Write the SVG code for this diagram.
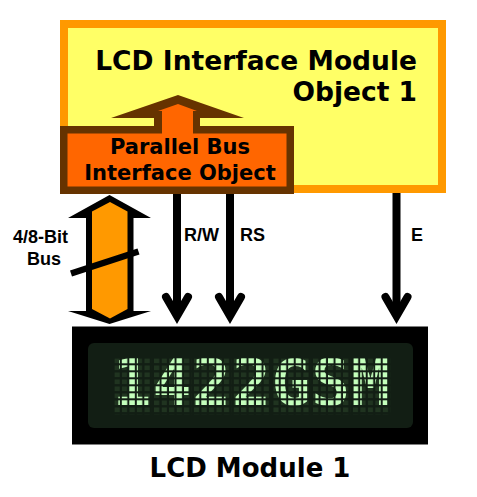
<svg xmlns="http://www.w3.org/2000/svg" width="477" height="497" viewBox="0 0 477 497">
<style>
.title{font-family:"DejaVu Sans",Verdana,sans-serif;font-weight:bold;fill:#000}
.lbl{font-family:"Liberation Sans",Arial,sans-serif;font-weight:bold;font-size:18px;fill:#000}
.wire{stroke:#000;stroke-width:8;fill:none}
.lcdtxt{font-family:"DejaVu Sans Mono",monospace;font-weight:bold;font-size:64.5px;fill:#c4ffbc}
</style>
<defs>
<marker id="chev" markerUnits="userSpaceOnUse" orient="auto" refX="0" refY="0" markerWidth="40" markerHeight="40" overflow="visible">
<polyline points="-19,-11 0,0 -19,11" fill="none" stroke="#000" stroke-width="8" stroke-linecap="round" stroke-linejoin="miter"/>
</marker>
<pattern id="unlit" patternUnits="userSpaceOnUse" x="0" y="0" width="7.5" height="7">
<rect width="5.5" height="5" fill="#203420"/>
</pattern>
<pattern id="gaps" patternUnits="userSpaceOnUse" x="0" y="0" width="7.5" height="7">
<rect x="5.5" y="0" width="2" height="7" fill="#121e14"/>
<rect x="0" y="5" width="7.5" height="2" fill="#121e14"/>
</pattern>
<rect id="cellbg" x="0" y="0" width="37.5" height="56" fill="url(#unlit)"/>
<rect id="cellgap" x="-2" y="-2" width="39.5" height="58" fill="url(#gaps)"/>
</defs>
<rect width="477" height="497" fill="#fff"/>

<g id="interface-module">
<rect x="64" y="24" width="378" height="165" fill="#ffff66" stroke="#ff9900" stroke-width="8"/>
<text class="title" x="417" y="69.5" font-size="26.5" text-anchor="end">LCD Interface Module</text>
<text class="title" x="417" y="101" font-size="26.5" text-anchor="end">Object 1</text>
</g>

<g id="parallel-bus">
<rect x="63.75" y="129.75" width="226.5" height="60.5" fill="#ff6600" stroke="#663300" stroke-width="7.5"/>
<polygon points="154,130 154,118 111,118 178,95 244,118 200,118 200,130" fill="#663300"/>
<polygon points="162,134 162,111 158,111 178,104 197,111 193,111 193,134" fill="#ff6600"/>
<text class="title" x="180" y="154" font-size="21" text-anchor="middle">Parallel Bus</text>
<text class="title" x="180" y="180" font-size="21" text-anchor="middle">Interface Object</text>
</g>

<g id="bus">
<polygon points="109.5,195 151,218 133.5,218 133.5,311 151,311 109.5,324 68,311 86,311 86,218 68,218" fill="#000"/>
<polygon points="110,202 127.5,211.5 127.5,309 110,318.5 92,309 92,211.5" fill="#ff9900"/>
<line x1="71" y1="273.5" x2="138.5" y2="251.5" stroke="#000" stroke-width="6.5"/>
<text class="lbl" x="13" y="243" font-size="18">4/8-Bit</text>
<text class="lbl" x="27" y="265" font-size="18">Bus</text>
</g>

<g id="connectors">
<line class="wire" x1="177" y1="194" x2="177" y2="316" marker-end="url(#chev)"/>
<line class="wire" x1="230" y1="194" x2="230" y2="316" marker-end="url(#chev)"/>
<line class="wire" x1="396.5" y1="193" x2="396.5" y2="316" marker-end="url(#chev)"/>
<text class="lbl" x="184" y="241">R/W</text>
<text class="lbl" x="240" y="241">RS</text>
<text class="lbl" x="411" y="241">E</text>
</g>

<g id="lcd-module">
<rect x="72" y="326.5" width="356" height="118" fill="#000"/>
<rect x="88" y="343" width="325" height="85" rx="6" fill="#121e14"/>
<use href="#cellbg" x="114.3" y="358.3"/>
<use href="#cellbg" x="154" y="358.3"/>
<use href="#cellbg" x="193.8" y="358.3"/>
<use href="#cellbg" x="233.5" y="358.3"/>
<use href="#cellbg" x="273.2" y="358.3"/>
<use href="#cellbg" x="313" y="358.3"/>
<use href="#cellbg" x="352.7" y="358.3"/>
<text class="lcdtxt" x="132 171.8 211.5 251.3 291 330.7 370.5" y="405.3" text-anchor="middle">1422GSM</text>
<use href="#cellgap" x="114.3" y="358.3"/>
<use href="#cellgap" x="154" y="358.3"/>
<use href="#cellgap" x="193.8" y="358.3"/>
<use href="#cellgap" x="233.5" y="358.3"/>
<use href="#cellgap" x="273.2" y="358.3"/>
<use href="#cellgap" x="313" y="358.3"/>
<use href="#cellgap" x="352.7" y="358.3"/>
<text class="title" x="250" y="477" font-size="26" text-anchor="middle">LCD Module 1</text>
</g>
</svg>
